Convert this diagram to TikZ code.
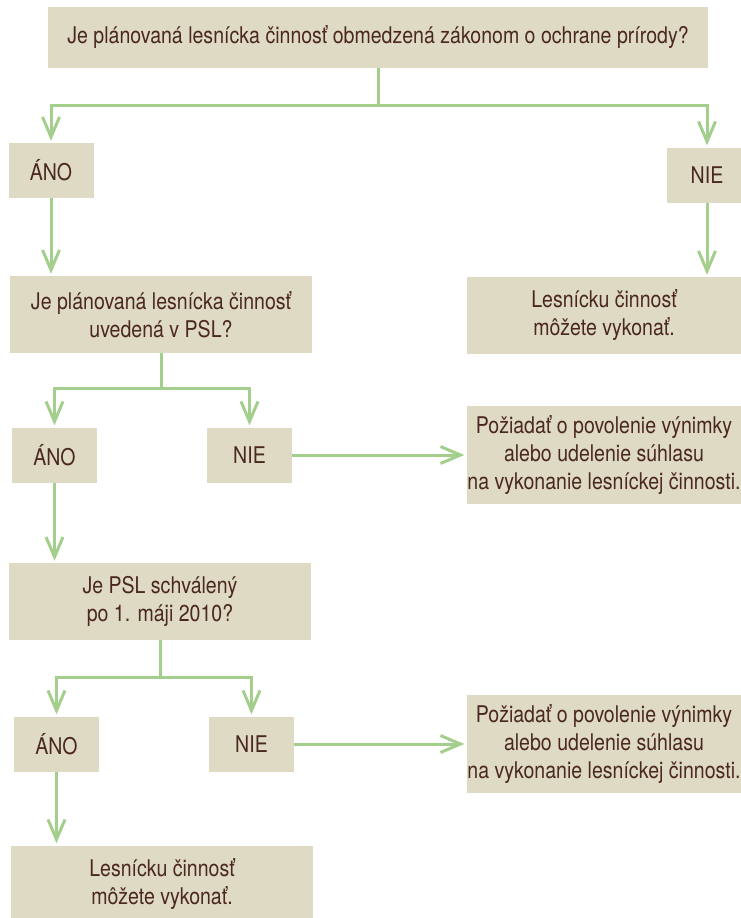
\documentclass[tikz,border=0pt]{standalone}
\usepackage{fontspec}
\setmainfont[FakeStretch=0.85]{TeX Gyre Heros}
\usetikzlibrary{arrows.meta, calc, positioning}
\definecolor{boxbeige}{RGB}{223,218,195}
\definecolor{textbrown}{RGB}{75,40,30}
\definecolor{flowgreen}{RGB}{163,206,140}

\begin{document}
\begin{tikzpicture}[x=1pt, y=-1pt, >={Straight Barb[length=20pt, width=17pt]},
    box/.style={fill=boxbeige, text=textbrown, align=center, inner sep=0pt,
      font=\fontsize{23}{28}\selectfont},
    answer/.style={box, minimum width=85pt, minimum height=55pt},
    wide/.style={box, minimum width=302pt, minimum height=77pt},
    side/.style={box, minimum width=275pt},
    flow/.style={->, line width=3pt, flowgreen, shorten >=2pt}]
    \useasboundingbox (0,0) rectangle (741,918);

    % Main question
    \node[box, minimum width=660pt, minimum height=61pt] (q1) at (378,37.5)
        {Je plánovaná lesnícka činnosť obmedzená zákonom o ochrane prírody?};

    % First answers
    \node[answer] (ano1) at (51,170.5) {ÁNO};
    \node[answer, minimum width=80pt] (nie1) at (707,175) {NIE};
    \draw[flow] (q1.south) -- ++(0,37) -| (ano1.north);
    \draw[flow] (q1.south) -- ++(0,37) -| (nie1.north);

    % PSL question and right result
    \node[wide] (q2) at (161,314.5) {Je plánovaná lesnícka činnosť\\uvedená v PSL?};
    \node[side, minimum height=77pt] (res1) at (604,315.5) {Lesnícku činnosť\\môžete vykonať.};
    \draw[flow] (ano1.south) -- (ano1.south |- q2.north);
    \draw[flow] (nie1.south) -- (nie1.south |- res1.north);

    % Second answers
    \node[answer] (ano2) at (54.5,455) {ÁNO};
    \node[answer] (nie2) at (249.5,455) {NIE};
    \node[side, minimum height=98pt] (req1) at (604,455)
        {Požiadať o povolenie výnimky\\alebo udelenie súhlasu\\na vykonanie lesníckej činnosti.};
    \draw[flow] (q2.south) -- ++(0,35) -| (ano2.north);
    \draw[flow] (q2.south) -- ++(0,35) -| (nie2.north);
    \draw[flow] (nie2.east) -- (nie2.east -| req1.west);

    % Approval date question
    \node[wide] (q3) at (160,601.5) {Je PSL schválený\\po 1. máji 2010?};
    \draw[flow] (ano2.south) -- (ano2.south |- q3.north);

    % Third answers
    \node[answer] (ano3) at (56.5,744) {ÁNO};
    \node[answer] (nie3) at (251.5,744) {NIE};
    \node[side, minimum height=98pt] (req2) at (604,744)
        {Požiadať o povolenie výnimky\\alebo udelenie súhlasu\\na vykonanie lesníckej činnosti.};
    \draw[flow] (q3.south) -- ++(0,37) -| (ano3.north);
    \draw[flow] (q3.south) -- ++(0,37) -| (nie3.north);
    \draw[flow] (nie3.east) -- (nie3.east -| req2.west);

    % Final result
    \node[wide] (res2) at (162,884) {Lesnícku činnosť\\môžete vykonať.};
    \draw[flow] (ano3.south) -- (ano3.south |- res2.north);
\end{tikzpicture}
\end{document}
